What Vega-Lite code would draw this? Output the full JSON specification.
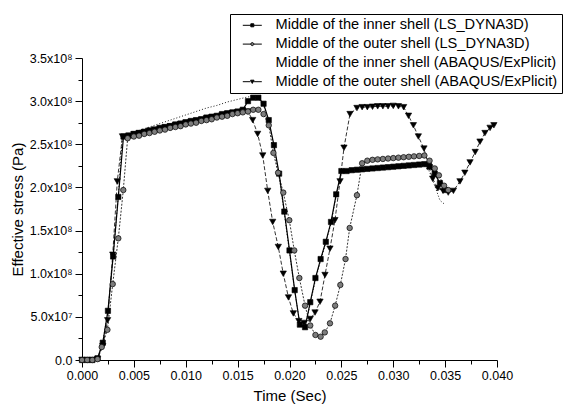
{
"$schema": "https://vega.github.io/schema/vega-lite/v6.json",
"width": 415, "height": 302,
"autosize": {"type": "none"},
"padding": {"left": 82, "top": 58, "right": 68, "bottom": 46},
"background": "white",
"config": {"view": {"stroke": null}, "font": "Liberation Sans"},
"data": {"values": [
{"s":"A","t":0,"v":0},{"s":"A","t":0.0005,"v":0},{"s":"A","t":0.001,"v":0},{"s":"A","t":0.0015,"v":0.02e8},{"s":"A","t":0.002,"v":0.2e8},{"s":"A","t":0.0025,"v":0.57e8},{"s":"A","t":0.003,"v":1.2e8},{"s":"A","t":0.0035,"v":1.89e8},{"s":"A","t":0.004,"v":2.59e8},
{"s":"A","t":0.0045,"v":2.6e8},{"s":"A","t":0.005,"v":2.62e8},{"s":"A","t":0.0055,"v":2.63e8},{"s":"A","t":0.006,"v":2.645e8},{"s":"A","t":0.0065,"v":2.66e8},{"s":"A","t":0.007,"v":2.67e8},{"s":"A","t":0.0075,"v":2.69e8},{"s":"A","t":0.008,"v":2.7e8},{"s":"A","t":0.0085,"v":2.71e8},{"s":"A","t":0.009,"v":2.73e8},{"s":"A","t":0.0095,"v":2.74e8},{"s":"A","t":0.01,"v":2.755e8},{"s":"A","t":0.0105,"v":2.77e8},{"s":"A","t":0.011,"v":2.78e8},{"s":"A","t":0.0115,"v":2.79e8},{"s":"A","t":0.012,"v":2.81e8},{"s":"A","t":0.0125,"v":2.82e8},{"s":"A","t":0.013,"v":2.83e8},{"s":"A","t":0.0135,"v":2.85e8},{"s":"A","t":0.014,"v":2.86e8},{"s":"A","t":0.0145,"v":2.87e8},{"s":"A","t":0.015,"v":2.88e8},{"s":"A","t":0.0155,"v":2.9e8},{"s":"A","t":0.016,"v":3.0e8},{"s":"A","t":0.0165,"v":3.04e8},{"s":"A","t":0.017,"v":3.04e8},{"s":"A","t":0.0175,"v":2.97e8},{"s":"A","t":0.018,"v":2.78e8},{"s":"A","t":0.0185,"v":2.49e8},{"s":"A","t":0.019,"v":2.16e8},{"s":"A","t":0.0195,"v":1.72e8},{"s":"A","t":0.02,"v":1.27e8},{"s":"A","t":0.0205,"v":0.81e8},{"s":"A","t":0.021,"v":0.41e8},{"s":"A","t":0.0215,"v":0.38e8},{"s":"A","t":0.022,"v":0.67e8},{"s":"A","t":0.0225,"v":0.95e8},{"s":"A","t":0.023,"v":1.17e8},{"s":"A","t":0.0235,"v":1.37e8},{"s":"A","t":0.024,"v":1.6e8},{"s":"A","t":0.0245,"v":1.92e8},{"s":"A","t":0.025,"v":2.19e8},{"s":"A","t":0.0255,"v":2.19e8},{"s":"A","t":0.026,"v":2.2e8},{"s":"A","t":0.0265,"v":2.205e8},{"s":"A","t":0.027,"v":2.21e8},{"s":"A","t":0.0275,"v":2.215e8},{"s":"A","t":0.028,"v":2.22e8},{"s":"A","t":0.0285,"v":2.225e8},{"s":"A","t":0.029,"v":2.23e8},{"s":"A","t":0.0295,"v":2.235e8},{"s":"A","t":0.03,"v":2.24e8},{"s":"A","t":0.0305,"v":2.245e8},{"s":"A","t":0.031,"v":2.25e8},{"s":"A","t":0.0315,"v":2.255e8},{"s":"A","t":0.032,"v":2.26e8},{"s":"A","t":0.0325,"v":2.265e8},{"s":"A","t":0.033,"v":2.27e8},{"s":"A","t":0.0335,"v":2.24e8},{"s":"A","t":0.034,"v":2.16e8},{"s":"A","t":0.0345,"v":2.05e8},{"s":"A","t":0.035,"v":1.97e8},
{"s":"B","t":0,"v":0},{"s":"B","t":0.0005,"v":0},{"s":"B","t":0.001,"v":0},{"s":"B","t":0.0015,"v":0.01e8},{"s":"B","t":0.0019,"v":0.15e8},{"s":"B","t":0.00245,"v":0.35e8},{"s":"B","t":0.00296,"v":0.88e8},{"s":"B","t":0.0035,"v":1.41e8},{"s":"B","t":0.00398,"v":1.97e8},{"s":"B","t":0.0044,"v":2.57e8},{"s":"B","t":0.005,"v":2.59e8},{"s":"B","t":0.0055,"v":2.6e8},{"s":"B","t":0.006,"v":2.62e8},{"s":"B","t":0.0065,"v":2.63e8},{"s":"B","t":0.007,"v":2.645e8},{"s":"B","t":0.0075,"v":2.66e8},{"s":"B","t":0.008,"v":2.67e8},{"s":"B","t":0.0085,"v":2.69e8},{"s":"B","t":0.009,"v":2.7e8},{"s":"B","t":0.0095,"v":2.71e8},{"s":"B","t":0.01,"v":2.73e8},{"s":"B","t":0.0105,"v":2.74e8},{"s":"B","t":0.011,"v":2.75e8},{"s":"B","t":0.0115,"v":2.77e8},{"s":"B","t":0.012,"v":2.78e8},{"s":"B","t":0.0125,"v":2.79e8},{"s":"B","t":0.013,"v":2.81e8},{"s":"B","t":0.0135,"v":2.82e8},{"s":"B","t":0.014,"v":2.83e8},{"s":"B","t":0.0145,"v":2.85e8},{"s":"B","t":0.015,"v":2.86e8},{"s":"B","t":0.0155,"v":2.87e8},{"s":"B","t":0.016,"v":2.88e8},{"s":"B","t":0.0165,"v":2.9e8},{"s":"B","t":0.017,"v":2.9e8},{"s":"B","t":0.0175,"v":2.85e8},{"s":"B","t":0.018,"v":2.72e8},{"s":"B","t":0.01845,"v":2.4e8},{"s":"B","t":0.0189,"v":2.17e8},{"s":"B","t":0.0194,"v":1.94e8},{"s":"B","t":0.01998,"v":1.62e8},{"s":"B","t":0.02046,"v":1.27e8},{"s":"B","t":0.02095,"v":0.95e8},{"s":"B","t":0.0215,"v":0.63e8},{"s":"B","t":0.022,"v":0.4e8},{"s":"B","t":0.0225,"v":0.29e8},{"s":"B","t":0.023,"v":0.27e8},{"s":"B","t":0.0234,"v":0.32e8},{"s":"B","t":0.0239,"v":0.425e8},{"s":"B","t":0.0244,"v":0.63e8},{"s":"B","t":0.0249,"v":0.87e8},{"s":"B","t":0.0254,"v":1.17e8},{"s":"B","t":0.0258,"v":1.53e8},{"s":"B","t":0.0265,"v":1.91e8},{"s":"B","t":0.027,"v":2.28e8},{"s":"B","t":0.0275,"v":2.31e8},{"s":"B","t":0.028,"v":2.32e8},{"s":"B","t":0.0285,"v":2.325e8},{"s":"B","t":0.029,"v":2.33e8},{"s":"B","t":0.0295,"v":2.335e8},{"s":"B","t":0.03,"v":2.34e8},{"s":"B","t":0.0305,"v":2.345e8},{"s":"B","t":0.031,"v":2.35e8},{"s":"B","t":0.0315,"v":2.355e8},{"s":"B","t":0.032,"v":2.36e8},{"s":"B","t":0.0325,"v":2.365e8},{"s":"B","t":0.033,"v":2.37e8},{"s":"B","t":0.0335,"v":2.31e8},{"s":"B","t":0.034,"v":2.22e8},{"s":"B","t":0.0344,"v":2.14e8},{"s":"B","t":0.0349,"v":2.02e8},{"s":"B","t":0.0353,"v":1.97e8},
{"s":"C","t":0,"v":0},{"s":"C","t":0.001,"v":0},{"s":"C","t":0.0015,"v":0.02e8},{"s":"C","t":0.002,"v":0.2e8},{"s":"C","t":0.0025,"v":0.57e8},{"s":"C","t":0.003,"v":1.2e8},{"s":"C","t":0.0035,"v":1.9e8},{"s":"C","t":0.0039,"v":2.6e8},{"s":"C","t":0.005,"v":2.64e8},{"s":"C","t":0.006,"v":2.68e8},{"s":"C","t":0.007,"v":2.72e8},{"s":"C","t":0.008,"v":2.76e8},{"s":"C","t":0.009,"v":2.8e8},{"s":"C","t":0.01,"v":2.84e8},{"s":"C","t":0.011,"v":2.88e8},{"s":"C","t":0.012,"v":2.92e8},{"s":"C","t":0.013,"v":2.95e8},{"s":"C","t":0.014,"v":2.99e8},{"s":"C","t":0.015,"v":3.02e8},{"s":"C","t":0.016,"v":3.05e8},{"s":"C","t":0.0165,"v":3.05e8},{"s":"C","t":0.017,"v":3.03e8},{"s":"C","t":0.0175,"v":2.95e8},{"s":"C","t":0.018,"v":2.76e8},{"s":"C","t":0.0185,"v":2.47e8},{"s":"C","t":0.019,"v":2.12e8},{"s":"C","t":0.0195,"v":1.7e8},{"s":"C","t":0.02,"v":1.25e8},{"s":"C","t":0.0205,"v":0.8e8},{"s":"C","t":0.021,"v":0.42e8},{"s":"C","t":0.0215,"v":0.36e8},{"s":"C","t":0.022,"v":0.65e8},{"s":"C","t":0.0225,"v":0.93e8},{"s":"C","t":0.023,"v":1.15e8},{"s":"C","t":0.0235,"v":1.36e8},{"s":"C","t":0.024,"v":1.58e8},{"s":"C","t":0.0245,"v":1.9e8},{"s":"C","t":0.025,"v":2.17e8},{"s":"C","t":0.027,"v":2.19e8},{"s":"C","t":0.029,"v":2.21e8},{"s":"C","t":0.031,"v":2.23e8},{"s":"C","t":0.033,"v":2.25e8},{"s":"C","t":0.0335,"v":2.18e8},{"s":"C","t":0.034,"v":2.02e8},{"s":"C","t":0.0345,"v":1.85e8},{"s":"C","t":0.035,"v":1.8e8},
{"s":"D","t":0,"v":0},{"s":"D","t":0.0005,"v":0},{"s":"D","t":0.001,"v":0},{"s":"D","t":0.0015,"v":0.01e8},{"s":"D","t":0.002,"v":0.16e8},{"s":"D","t":0.00247,"v":0.46e8},{"s":"D","t":0.00296,"v":1.22e8},{"s":"D","t":0.0034,"v":2.07e8},{"s":"D","t":0.0039,"v":2.59e8},{"s":"D","t":0.0045,"v":2.6e8},{"s":"D","t":0.005,"v":2.615e8},{"s":"D","t":0.0055,"v":2.63e8},{"s":"D","t":0.006,"v":2.64e8},{"s":"D","t":0.0065,"v":2.655e8},{"s":"D","t":0.007,"v":2.67e8},{"s":"D","t":0.0075,"v":2.68e8},{"s":"D","t":0.008,"v":2.695e8},{"s":"D","t":0.0085,"v":2.71e8},{"s":"D","t":0.009,"v":2.72e8},{"s":"D","t":0.0095,"v":2.735e8},{"s":"D","t":0.01,"v":2.75e8},{"s":"D","t":0.0105,"v":2.76e8},{"s":"D","t":0.011,"v":2.77e8},{"s":"D","t":0.0115,"v":2.785e8},{"s":"D","t":0.012,"v":2.8e8},{"s":"D","t":0.0125,"v":2.81e8},{"s":"D","t":0.013,"v":2.82e8},{"s":"D","t":0.0135,"v":2.835e8},{"s":"D","t":0.014,"v":2.85e8},{"s":"D","t":0.0145,"v":2.86e8},{"s":"D","t":0.015,"v":2.87e8},{"s":"D","t":0.0155,"v":2.88e8},{"s":"D","t":0.016,"v":2.88e8},{"s":"D","t":0.01645,"v":2.78e8},{"s":"D","t":0.01693,"v":2.62e8},{"s":"D","t":0.01742,"v":2.37e8},{"s":"D","t":0.0179,"v":1.96e8},{"s":"D","t":0.01838,"v":1.6e8},{"s":"D","t":0.01892,"v":1.31e8},{"s":"D","t":0.0194,"v":1.0e8},{"s":"D","t":0.0199,"v":0.725e8},{"s":"D","t":0.02037,"v":0.54e8},{"s":"D","t":0.0209,"v":0.45e8},{"s":"D","t":0.0214,"v":0.43e8},{"s":"D","t":0.022,"v":0.475e8},{"s":"D","t":0.02246,"v":0.55e8},{"s":"D","t":0.02294,"v":0.675e8},{"s":"D","t":0.02342,"v":0.985e8},{"s":"D","t":0.0239,"v":1.29e8},{"s":"D","t":0.02438,"v":1.62e8},{"s":"D","t":0.02487,"v":2.07e8},{"s":"D","t":0.02525,"v":2.46e8},{"s":"D","t":0.02583,"v":2.85e8},{"s":"D","t":0.0265,"v":2.92e8},{"s":"D","t":0.027,"v":2.93e8},{"s":"D","t":0.0275,"v":2.93e8},{"s":"D","t":0.028,"v":2.935e8},{"s":"D","t":0.0285,"v":2.94e8},{"s":"D","t":0.029,"v":2.94e8},{"s":"D","t":0.0295,"v":2.94e8},{"s":"D","t":0.03,"v":2.945e8},{"s":"D","t":0.0305,"v":2.94e8},{"s":"D","t":0.031,"v":2.93e8},{"s":"D","t":0.03147,"v":2.83e8},{"s":"D","t":0.03194,"v":2.72e8},{"s":"D","t":0.03242,"v":2.59e8},{"s":"D","t":0.03296,"v":2.45e8},{"s":"D","t":0.0334,"v":2.25e8},{"s":"D","t":0.0338,"v":2.1e8},{"s":"D","t":0.0343,"v":1.99e8},{"s":"D","t":0.0348,"v":1.96e8},{"s":"D","t":0.0353,"v":1.94e8},{"s":"D","t":0.0358,"v":1.96e8},{"s":"D","t":0.03643,"v":2.07e8},{"s":"D","t":0.0369,"v":2.17e8},{"s":"D","t":0.0374,"v":2.29e8},{"s":"D","t":0.0379,"v":2.41e8},{"s":"D","t":0.03836,"v":2.53e8},{"s":"D","t":0.03884,"v":2.63e8},{"s":"D","t":0.03933,"v":2.69e8},{"s":"D","t":0.0397,"v":2.72e8}
]},
"encoding": {
  "x": {"field": "t", "type": "quantitative", "scale": {"domain": [0, 0.04], "nice": false},
    "axis": {"values": [0,0.0025,0.005,0.0075,0.01,0.0125,0.015,0.0175,0.02,0.0225,0.025,0.0275,0.03,0.0325,0.035,0.0375,0.04],
      "title": "Time (Sec)", "titleFontSize": 15, "titleFontWeight": "normal", "titleColor": "black", "titlePadding": 7,
      "labelFontSize": 12.5, "labelColor": "black", "labelPadding": 2, "labelFlush": false, "labelOverlap": false,
      "labelExpr": "round(datum.value*400)%2===1 ? '' : format(datum.value,'.3f')",
      "tickSize": {"condition": {"test": "round(datum.value*400)%2===1", "value": 4}, "value": 7},
      "tickColor": "black", "domainColor": "black", "grid": false}},
  "y": {"field": "v", "type": "quantitative", "scale": {"domain": [0, 350000000], "nice": false},
    "axis": {"values": [0,25000000,50000000,75000000,100000000,125000000,150000000,175000000,200000000,225000000,250000000,275000000,300000000,325000000,350000000],
      "title": "Effective stress (Pa)", "titleFontSize": 15, "titleFontWeight": "normal", "titleColor": "black", "titlePadding": 4,
      "labelFontSize": 12.5, "labelColor": "black", "labelPadding": 3, "labelFlush": false, "labelOverlap": false,
      "labelExpr": "datum.value===0 ? '0.0' : datum.value===50000000 ? '5.0x10⁷' : (datum.value%50000000!==0 ? '' : format(datum.value/100000000,'.1f')+'x10⁸')",
      "tickSize": {"condition": {"test": "datum.value%50000000!==0", "value": 4}, "value": 7},
      "tickColor": "black", "domainColor": "black", "grid": false}}
},
"layer": [
  {"transform": [{"filter": "datum.s === 'C'"}], "mark": {"type": "line", "color": "black", "strokeWidth": 0.9, "strokeDash": [1, 2]}, "encoding": {}},
  {"transform": [{"filter": "datum.s === 'A'"}], "mark": {"type": "line", "color": "black", "strokeWidth": 1.2}, "encoding": {}},
  {"transform": [{"filter": "datum.s === 'B'"}], "mark": {"type": "line", "color": "black", "strokeWidth": 0.8, "strokeDash": [2, 1.5]}, "encoding": {}},
  {"transform": [{"filter": "datum.s === 'D'"}], "mark": {"type": "line", "color": "black", "strokeWidth": 0.8, "strokeDash": [4, 2]}, "encoding": {}},
  {"transform": [{"filter": "datum.s === 'A'"}],
   "mark": {"type": "point", "shape": "square", "filled": true, "fill": "black", "stroke": "black", "strokeWidth": 0.6, "opacity": 1, "size": 28}, "encoding": {}},
  {"transform": [{"filter": "datum.s === 'D'"}],
   "mark": {"type": "point", "shape": "triangle-down", "filled": true, "fill": "black", "stroke": "black", "strokeWidth": 0.6, "opacity": 1, "size": 40}, "encoding": {}},
  {"transform": [{"filter": "datum.s === 'B'"}],
   "mark": {"type": "point", "shape": "circle", "filled": true, "fill": "#7d7d7d", "stroke": "black", "strokeWidth": 0.7, "opacity": 1, "size": 30}, "encoding": {}},
  {"transform": [{"filter": "datum.t === 0"}],
   "mark": {"type": "point", "filled": true, "opacity": 0, "strokeWidth": 1},
   "encoding": {
     "fill": {"field": "s", "type": "nominal", "scale": {"domain": ["A","B","C","D"], "range": ["black","#7d7d7d","black","black"]}},
     "stroke": {"field": "s", "type": "nominal", "scale": {"domain": ["A","B","C","D"], "range": ["black","black","black","black"]}},
     "shape": {"field": "s", "type": "nominal",
       "scale": {"domain": ["A","B","C","D"], "range": ["M0.3,0H1.9M2.5,0H4.1M1.9,-0.3H2.5V0.3H1.9Z", "M0.3,0H1.9M2.5,0H4.1M1.9,0A0.3,0.3,0,1,0,2.5,0A0.3,0.3,0,1,0,1.9,0Z", "M0,0", "M0.3,0H1.85M2.55,0H4.1M1.85,-0.3H2.55L2.2,0.35Z"]},
       "legend": {"orient": "none", "legendX": 148, "legendY": -44, "title": null,
         "strokeColor": "black", "fillColor": "white", "padding": 4, "symbolSize": 100, "rowPadding": 3.8,
         "symbolOpacity": 1, "symbolStrokeWidth": 1,
         "labelFontSize": 14.6, "labelFont": "Liberation Sans", "labelColor": "black", "labelOffset": 27, "labelLimit": 400,
         "labelExpr": "datum.value==='A' ? 'Middle of the inner shell (LS_DYNA3D)' : datum.value==='B' ? 'Middle of the outer shell (LS_DYNA3D)' : datum.value==='C' ? 'Middle of the inner shell (ABAQUS/ExPlicit)' : 'Middle of the outer shell (ABAQUS/ExPlicit)'"}}
   }}
]
}
